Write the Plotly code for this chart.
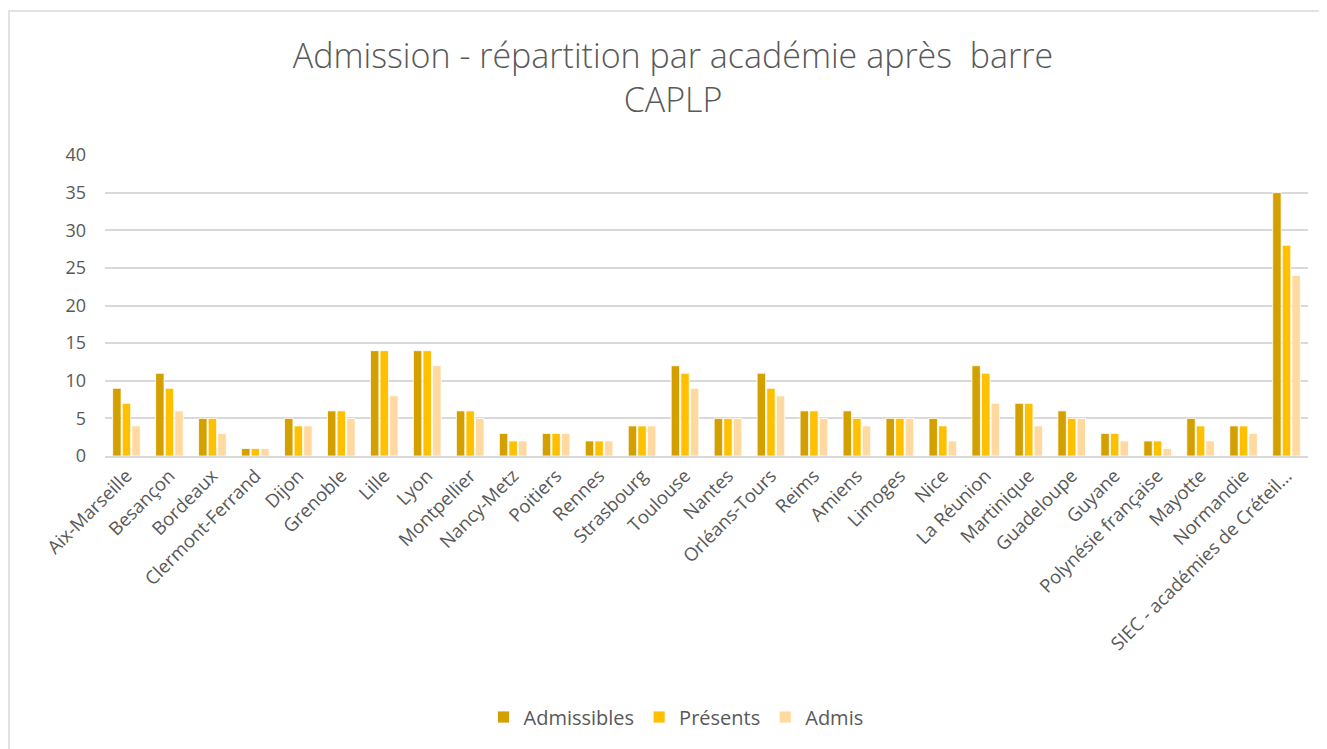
import plotly.graph_objects as go

academies = ["Aix-Marseille", "Besançon", "Bordeaux", "Clermont-Ferrand", "Dijon", "Grenoble",
             "Lille", "Lyon", "Montpellier", "Nancy-Metz", "Poitiers", "Rennes", "Strasbourg",
             "Toulouse", "Nantes", "Orléans-Tours", "Reims", "Amiens", "Limoges", "Nice",
             "La Réunion", "Martinique", "Guadeloupe", "Guyane", "Polynésie française",
             "Mayotte", "Normandie", "SIEC - académies de Créteil…"]
admissibles = [9, 11, 5, 1, 5, 6, 14, 14, 6, 3, 3, 2, 4, 12, 5, 11, 6, 6, 5, 5, 12, 7, 6, 3, 2, 5, 4, 35]
presents    = [7, 9, 5, 1, 4, 6, 14, 14, 6, 2, 3, 2, 4, 11, 5, 9, 6, 5, 5, 4, 11, 7, 5, 3, 2, 4, 4, 28]
admis       = [4, 6, 3, 1, 4, 5, 8, 12, 5, 2, 3, 2, 4, 9, 5, 8, 5, 4, 5, 2, 7, 4, 5, 2, 1, 2, 3, 24]

series = [("Admissibles", admissibles, "#D4A000"),
          ("Présents", presents, "#FFC000"),
          ("Admis", admis, "#FFD9A0")]

fig = go.Figure()
for name, vals, col in series:
    fig.add_trace(go.Bar(x=academies, y=vals, name=name, marker_color=col,
                         marker_line_color="white", marker_line_width=0.8))

grey = "#595959"
W, H = 1319, 741
L, R, T, B = 97, 19, 147, 293
pw, ph = W - L - R, H - T - B
fig.update_layout(
    width=W, height=H,
    paper_bgcolor="white", plot_bgcolor="white",
    margin=dict(l=L, r=R, t=T, b=B),
    barmode="group", bargap=0.33, bargroupgap=0.12,
    font=dict(family="Open Sans, Liberation Sans, sans-serif", color=grey, size=18),
    title=dict(text="Admission - répartition par académie après  barre<br>CAPLP",
               x=(673 - 8) / W, xanchor="center", y=1 - (68 - 8) / H, yanchor="middle",
               font=dict(size=34, color=grey, family="Open Sans, sans-serif", weight=300)),
    showlegend=True,
    legend=dict(orientation="h", x=(676 - 8 - L) / pw, xanchor="center",
                y=(448 - 709) / ph, yanchor="middle",
                font=dict(size=20, color=grey), itemwidth=30, traceorder="normal"),
    xaxis=dict(tickangle=-45, showgrid=False, showline=True, linecolor="#D9D9D9", linewidth=1.5,
               ticks="", tickfont=dict(size=18.5, color=grey)),
    yaxis=dict(range=[0, 40], dtick=5, showgrid=True, gridcolor="#D9D9D9", gridwidth=1.5,
               zeroline=False, showline=False, ticks="", ticklabelstandoff=18,
               tickfont=dict(size=18, color=grey)),
)
fig.add_shape(type="rect", xref="paper", yref="paper",
              x0=(1 - L) / pw, x1=(W + 5 - L) / pw,
              y0=(448 - 760) / ph, y1=(448 - 3) / ph,
              line=dict(color="#D9D9D9", width=1.5), fillcolor="rgba(0,0,0,0)", layer="below")
fig.write_html("out.html")
